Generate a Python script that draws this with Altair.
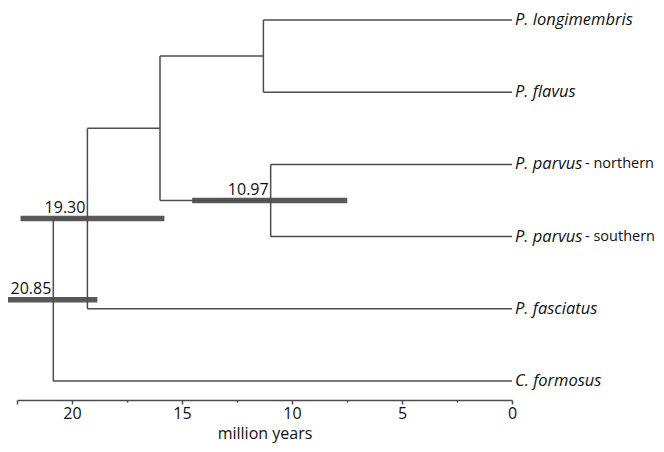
import altair as alt
import pandas as pd

# ---- data ----
tip_names = ["P. longimembris", "P. flavus", "P. parvus", "P. parvus", "P. fasciatus", "C. formosus"]
tip_suffix = ["", "", "- northern", "- southern", "", ""]

node_names = ["A", "B", "C", "D", "root"]
node_ages = [11.3, 10.97, 16.0, 19.30, 20.85]
node_children = [
    ["t0", "t1"],
    ["t2", "t3"],
    ["A", "B"],
    ["C", "t4"],
    ["D", "t5"],
]

hpd_nodes = ["B", "D", "root"]
hpd_low = [7.49, 15.8, 18.85]
hpd_high = [14.54, 22.34, 22.92]
hpd_labels = ["10.97", "19.30", "20.85"]

axis_ticks = [22.5, 20, 17.5, 15, 12.5, 10, 7.5, 5, 2.5, 0]

# ---- build tree geometry from the topology ----
age = {f"t{i}": 0.0 for i in range(len(tip_names))}
ypos = {f"t{i}": float(i) for i in range(len(tip_names))}
for n, a, ch in zip(node_names, node_ages, node_children):
    age[n] = a
    ypos[n] = sum(ypos[c] for c in ch) / len(ch)

vsegs, hsegs = [], []
for n, ch in zip(node_names, node_children):
    ys = [ypos[c] for c in ch]
    vsegs.append({"x": age[n], "y": min(ys), "y2": max(ys)})
    for c in ch:
        hsegs.append({"x": age[n], "x2": age[c], "y": ypos[c]})
v_df = pd.DataFrame(vsegs)
h_df = pd.DataFrame(hsegs)

tips_df = pd.DataFrame({
    "age": [0.0] * len(tip_names),
    "y": [ypos[f"t{i}"] for i in range(len(tip_names))],
    "name": tip_names,
    "suffix": tip_suffix,
})

hpd_df = pd.DataFrame({
    "lo": hpd_low,
    "hi": hpd_high,
    "y": [ypos[n] for n in hpd_nodes],
    "node_age": [age[n] for n in hpd_nodes],
    "label": hpd_labels,
})

FONT = "Open Sans"
LINE = "#4d4d4d"
xscale = alt.Scale(domain=[0, 22.5], reverse=True, nice=False, zero=False)
yscale = alt.Scale(domain=[-0.166, 5.263], reverse=True, nice=False, zero=False)

xaxis = alt.Axis(
    values=axis_ticks,
    labelExpr="datum.value % 5 == 0 ? datum.label : ''",
    title="million years",
    titleFont=FONT, titleFontSize=16, titleFontWeight="normal", titleColor="#111",
    titlePadding=4,
    labelFont=FONT, labelFontSize=16, labelColor="#111", labelPadding=1,
    tickSize={"condition": {"test": "datum.value % 5 != 0 && datum.value < 22", "value": 2}, "value": 4},
    tickColor=LINE, domainColor=LINE, domainWidth=1.5, tickWidth=1.5,
    grid=False, labelFlush=False,
)

bars = alt.Chart(hpd_df).mark_rule(color="#595959", strokeWidth=5.5).encode(
    x=alt.X("lo:Q", scale=xscale, axis=xaxis),
    x2="hi:Q",
    y=alt.Y("y:Q", scale=yscale, axis=None),
)

hlines = alt.Chart(h_df).mark_rule(color=LINE, strokeWidth=1.5).encode(
    x=alt.X("x:Q", scale=xscale),
    x2="x2:Q",
    y=alt.Y("y:Q", scale=yscale),
)

vlines = alt.Chart(v_df).mark_rule(color=LINE, strokeWidth=1.5).encode(
    x=alt.X("x:Q", scale=xscale),
    y=alt.Y("y:Q", scale=yscale),
    y2="y2:Q",
)

hpd_text = alt.Chart(hpd_df).mark_text(
    align="right", baseline="alphabetic", dx=-2, dy=-5.5, font=FONT, fontSize=16, color="#111"
).encode(
    x=alt.X("node_age:Q", scale=xscale),
    y=alt.Y("y:Q", scale=yscale),
    text="label:N",
)

tip_text = alt.Chart(tips_df).mark_text(
    align="left", baseline="middle", dx=3, font=FONT, fontSize=16.5, fontStyle="italic", color="#111"
).encode(
    x=alt.X("age:Q", scale=xscale),
    y=alt.Y("y:Q", scale=yscale),
    text="name:N",
)

suffix_text = alt.Chart(tips_df).mark_text(
    align="left", baseline="middle", dx=73, font=FONT, fontSize=14.5, color="#111"
).encode(
    x=alt.X("age:Q", scale=xscale),
    y=alt.Y("y:Q", scale=yscale),
    text="suffix:N",
)

chart = alt.layer(bars, hlines, vlines, hpd_text, tip_text, suffix_text).properties(
    width=495,
    height=392,
    background="white",
    padding={"left": 9, "top": 0, "right": 144, "bottom": 44},
    autosize=alt.AutoSizeParams(type="none"),
).configure_view(stroke=None)

chart.save("out.html", embed_options={"renderer": "svg", "actions": False})
